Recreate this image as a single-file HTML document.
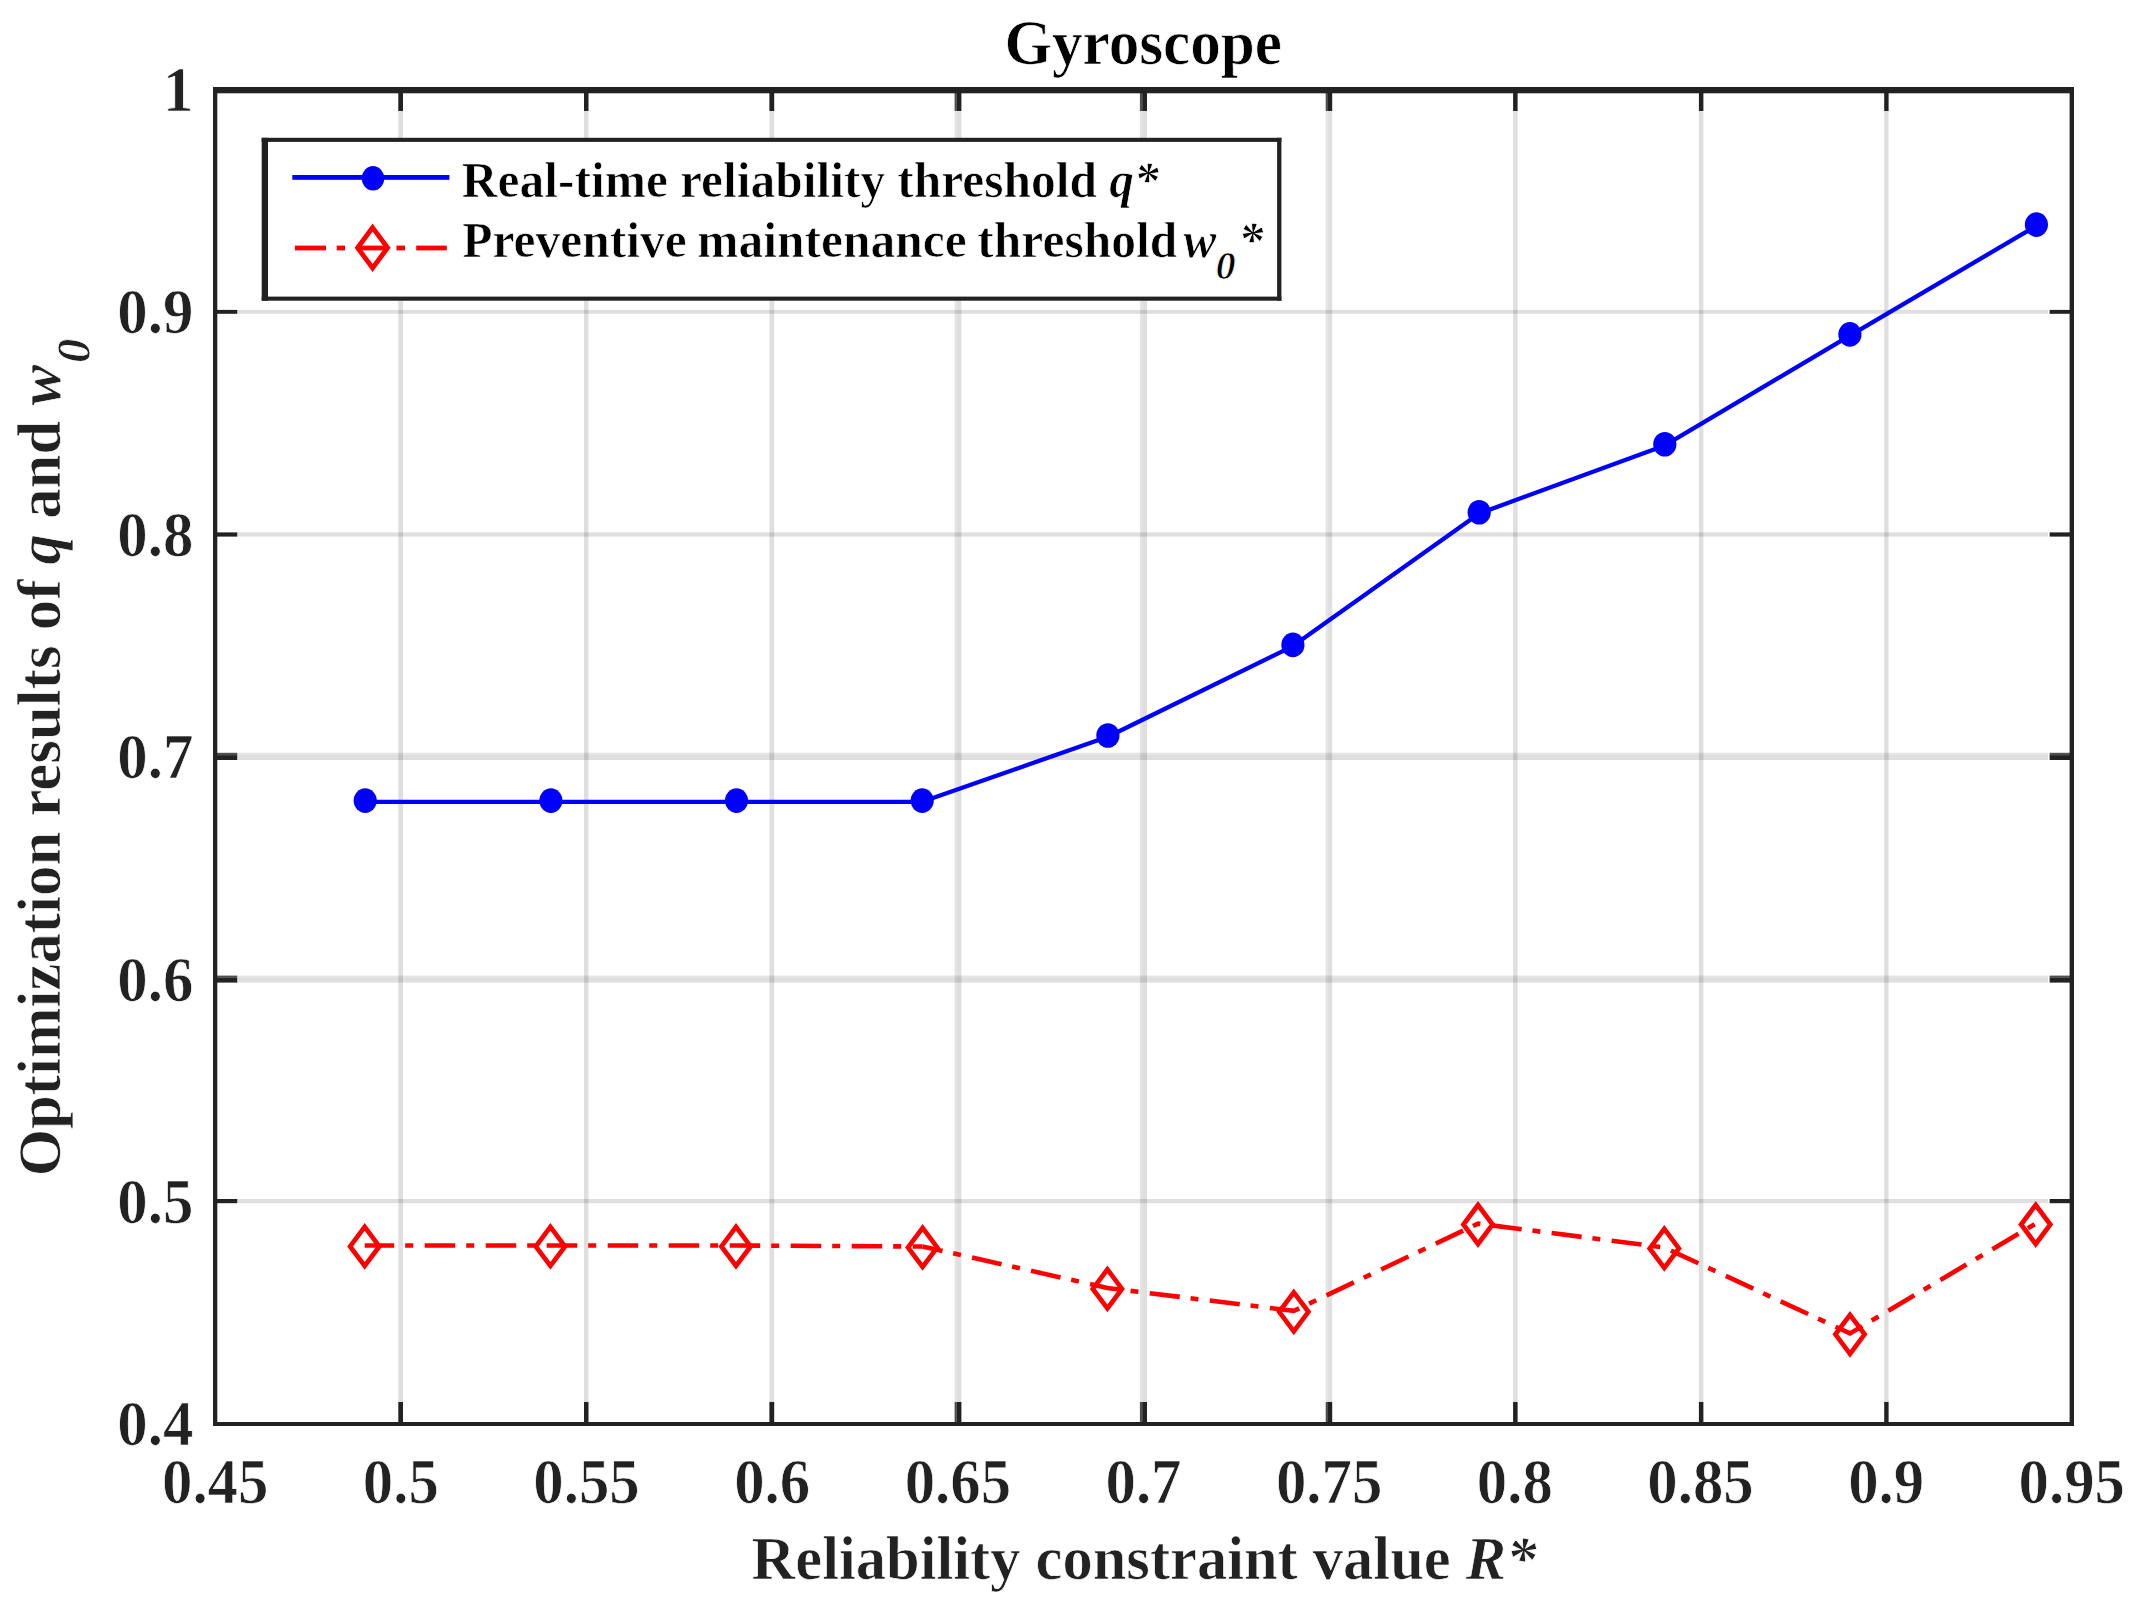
<!DOCTYPE html>
<html lang="en"><head><meta charset="utf-8"><title>Gyroscope</title>
<style>html,body{margin:0;padding:0;background:#fff;}body{width:2138px;height:1617px;overflow:hidden;}svg{display:block;}text{font-family:"Liberation Serif", "DejaVu Serif", serif;font-weight:bold;stroke:#fff;stroke-width:0.7px;}.i{font-style:italic;}</style>
</head><body>
<svg width="2138" height="1617" viewBox="0 0 2138 1617">
<rect width="2138" height="1617" fill="#fff"/>
<rect x="398.3" y="111.0" width="4.7" height="1290.5" fill="#222" opacity="0.147"/>
<rect x="584.0" y="111.0" width="4.5" height="1290.5" fill="#222" opacity="0.147"/>
<rect x="769.4" y="111.0" width="4.8" height="1290.5" fill="#222" opacity="0.147"/>
<rect x="954.6" y="111.0" width="2.3" height="1290.5" fill="#222" opacity="0.118"/>
<rect x="956.9" y="111.0" width="4.5" height="1290.5" fill="#222" opacity="0.147"/>
<rect x="1139.9" y="111.0" width="2.3" height="1290.5" fill="#222" opacity="0.118"/>
<rect x="1142.2" y="111.0" width="4.8" height="1290.5" fill="#222" opacity="0.147"/>
<rect x="1325.7" y="111.0" width="2.3" height="1290.5" fill="#222" opacity="0.118"/>
<rect x="1328.0" y="111.0" width="4.2" height="1290.5" fill="#222" opacity="0.147"/>
<rect x="1513.1" y="111.0" width="4.5" height="1290.5" fill="#222" opacity="0.147"/>
<rect x="1698.9" y="111.0" width="4.5" height="1290.5" fill="#222" opacity="0.147"/>
<rect x="1884.2" y="111.0" width="4.4" height="1290.5" fill="#222" opacity="0.147"/>
<rect x="237.8" y="1199.0" width="1810.2" height="4.2" fill="#222" opacity="0.147"/>
<rect x="237.8" y="975.6" width="1810.2" height="2.3" fill="#222" opacity="0.118"/>
<rect x="237.8" y="977.9" width="1810.2" height="4.7" fill="#222" opacity="0.147"/>
<rect x="237.8" y="752.8" width="1810.2" height="2.3" fill="#222" opacity="0.118"/>
<rect x="237.8" y="755.1" width="1810.2" height="4.9" fill="#222" opacity="0.147"/>
<rect x="237.8" y="532.4" width="1810.2" height="4.2" fill="#222" opacity="0.147"/>
<rect x="237.8" y="309.9" width="1810.2" height="3.9" fill="#222" opacity="0.147"/>
<rect x="398.3" y="1401.9" width="4.7" height="21.0" fill="#222"/>
<rect x="398.3" y="92.0" width="4.7" height="19.0" fill="#222"/>
<rect x="584.0" y="1401.9" width="4.5" height="21.0" fill="#222"/>
<rect x="584.0" y="92.0" width="4.5" height="19.0" fill="#222"/>
<rect x="769.4" y="1401.9" width="4.8" height="21.0" fill="#222"/>
<rect x="769.4" y="92.0" width="4.8" height="19.0" fill="#222"/>
<rect x="954.6" y="1401.9" width="2.3" height="21.0" fill="#222" opacity="0.800"/>
<rect x="956.9" y="1401.9" width="4.5" height="21.0" fill="#222"/>
<rect x="954.6" y="92.0" width="2.3" height="19.0" fill="#222" opacity="0.800"/>
<rect x="956.9" y="92.0" width="4.5" height="19.0" fill="#222"/>
<rect x="1139.9" y="1401.9" width="2.3" height="21.0" fill="#222" opacity="0.800"/>
<rect x="1142.2" y="1401.9" width="4.8" height="21.0" fill="#222"/>
<rect x="1139.9" y="92.0" width="2.3" height="19.0" fill="#222" opacity="0.800"/>
<rect x="1142.2" y="92.0" width="4.8" height="19.0" fill="#222"/>
<rect x="1325.7" y="1401.9" width="2.3" height="21.0" fill="#222" opacity="0.800"/>
<rect x="1328.0" y="1401.9" width="4.2" height="21.0" fill="#222"/>
<rect x="1325.7" y="92.0" width="2.3" height="19.0" fill="#222" opacity="0.800"/>
<rect x="1328.0" y="92.0" width="4.2" height="19.0" fill="#222"/>
<rect x="1513.1" y="1401.9" width="4.5" height="21.0" fill="#222"/>
<rect x="1513.1" y="92.0" width="4.5" height="19.0" fill="#222"/>
<rect x="1698.9" y="1401.9" width="4.5" height="21.0" fill="#222"/>
<rect x="1698.9" y="92.0" width="4.5" height="19.0" fill="#222"/>
<rect x="1884.2" y="1401.9" width="4.4" height="21.0" fill="#222"/>
<rect x="1884.2" y="92.0" width="4.4" height="19.0" fill="#222"/>
<rect x="216.0" y="1199.0" width="21.3" height="4.2" fill="#222"/>
<rect x="2049.6" y="1199.0" width="21.0" height="4.2" fill="#222"/>
<rect x="216.0" y="975.6" width="21.3" height="2.3" fill="#222" opacity="0.800"/>
<rect x="216.0" y="977.9" width="21.3" height="4.7" fill="#222"/>
<rect x="2049.6" y="975.6" width="21.0" height="2.3" fill="#222" opacity="0.800"/>
<rect x="2049.6" y="977.9" width="21.0" height="4.7" fill="#222"/>
<rect x="216.0" y="752.8" width="21.3" height="2.3" fill="#222" opacity="0.800"/>
<rect x="216.0" y="755.1" width="21.3" height="4.9" fill="#222"/>
<rect x="2049.6" y="752.8" width="21.0" height="2.3" fill="#222" opacity="0.800"/>
<rect x="2049.6" y="755.1" width="21.0" height="4.9" fill="#222"/>
<rect x="216.0" y="532.4" width="21.3" height="4.2" fill="#222"/>
<rect x="2049.6" y="532.4" width="21.0" height="4.2" fill="#222"/>
<rect x="216.0" y="309.9" width="21.3" height="3.9" fill="#222"/>
<rect x="2049.6" y="309.9" width="21.0" height="3.9" fill="#222"/>
<g fill="#222">
<rect x="213" y="87" width="1861" height="6.3"/>
<rect x="213" y="1422" width="1861" height="4"/>
<rect x="213" y="87" width="4.3" height="1339"/>
<rect x="2069.6" y="87" width="4.4" height="1339"/>
</g>
<polyline fill="none" stroke="#00f" stroke-width="4.3" stroke-linejoin="round" points="365.2,801.8 550.9,801.8 736.5,801.8 922.2,801.8 1107.9,736.7 1292.9,646.1 1479.2,513.5 1664.8,445.4 1849.9,335.6 2036.4,225.8"/>
<g fill="#00f">
<ellipse cx="365.2" cy="800.6" rx="11.6" ry="12.3"/>
<ellipse cx="550.9" cy="800.6" rx="11.6" ry="12.3"/>
<ellipse cx="736.5" cy="800.6" rx="11.6" ry="12.3"/>
<ellipse cx="922.2" cy="800.6" rx="11.6" ry="12.3"/>
<ellipse cx="1107.9" cy="735.5" rx="11.6" ry="12.3"/>
<ellipse cx="1292.9" cy="644.9" rx="11.6" ry="12.3"/>
<ellipse cx="1479.2" cy="512.3" rx="11.6" ry="12.3"/>
<ellipse cx="1664.8" cy="444.2" rx="11.6" ry="12.3"/>
<ellipse cx="1849.9" cy="334.4" rx="11.6" ry="12.3"/>
<ellipse cx="2036.4" cy="224.6" rx="11.6" ry="12.3"/>
</g>
<polyline fill="none" stroke="#f00" stroke-width="4.6" stroke-dasharray="30.50 11.00 8.00 11.50" stroke-dashoffset="1.00" points="364.7,1245.5 550.4,1245.5 736.0,1245.5 922.6,1246.5"/>
<polyline fill="none" stroke="#f00" stroke-width="4.6" stroke-dasharray="30.23 10.90 7.93 11.40" stroke-dashoffset="9.79" points="922.6,1246.5 1107.4,1288.0 1293.8,1310.9 1478.0,1223.6 1664.3,1247.5 1850.0,1333.4 2035.7,1223.6"/>
<g fill="none" stroke="#f00" stroke-width="4.7" stroke-linejoin="miter">
<path d="M364.7 1226.9L379.3 1246.4L364.7 1265.9L350.1 1246.4Z"/>
<path d="M550.4 1226.9L565.0 1246.4L550.4 1265.9L535.8 1246.4Z"/>
<path d="M736.0 1226.9L750.6 1246.4L736.0 1265.9L721.4 1246.4Z"/>
<path d="M922.6 1227.9L937.2 1247.4L922.6 1266.9L908.0 1247.4Z"/>
<path d="M1107.4 1269.4L1122.0 1288.9L1107.4 1308.4L1092.8 1288.9Z"/>
<path d="M1293.8 1292.3L1308.4 1311.8L1293.8 1331.3L1279.2 1311.8Z"/>
<path d="M1478.0 1205.0L1492.6 1224.5L1478.0 1244.0L1463.4 1224.5Z"/>
<path d="M1664.3 1228.9L1678.9 1248.4L1664.3 1267.9L1649.7 1248.4Z"/>
<path d="M1850.0 1314.8L1864.6 1334.3L1850.0 1353.8L1835.4 1334.3Z"/>
<path d="M2035.7 1205.0L2050.3 1224.5L2035.7 1244.0L2021.1 1224.5Z"/>
</g>
<rect x="264.85" y="139.85" width="1014.4" height="158.7" fill="#fff" stroke="none"/>
<g fill="#222">
<rect x="261.7" y="137.8" width="1019.7" height="4.1"/>
<rect x="261.7" y="296.6" width="1019.7" height="4.1"/>
<rect x="261.7" y="137.8" width="6.3" height="162.9"/>
<rect x="1277.1" y="137.8" width="4.3" height="162.9"/>
</g>
<rect x="292.3" y="175" width="157.1" height="4.8" fill="#00f"/>
<ellipse cx="373" cy="178.3" rx="11.2" ry="12.2" fill="#00f"/>
<g fill="#f00">
<rect x="294.9" y="245.6" width="31.1" height="4.8"/>
<rect x="336.7" y="245.6" width="8.3" height="4.8"/>
<rect x="356.3" y="245.6" width="30.5" height="4.8"/>
<rect x="396.5" y="245.6" width="8.5" height="4.8"/>
<rect x="416.2" y="245.6" width="30.6" height="4.8"/>
</g>
<path d="M372.6 227.6L387.6 247.8L372.6 268L357.6 247.8Z" fill="none" stroke="#f00" stroke-width="4.8"/>
<text id="lg1" transform="translate(461.80 196.80) scale(1 1.015)" font-size="49.5" text-anchor="start" fill="#000" word-spacing="-0.3">Real-time reliability threshold <tspan class="i">q*</tspan></text>
<text id="lg2" transform="translate(462.20 256.70) scale(1 1.015)" font-size="49.5" text-anchor="start" fill="#000" word-spacing="-1.7">Preventive maintenance threshold<tspan class="i" dx="6">w</tspan><tspan class="i" font-size="39.6" dy="22" dx="-0.5">0</tspan><tspan class="i" dy="-22" dx="3">*</tspan></text>
<text id="title" transform="translate(1143.20 64.10) scale(1 1.02)" font-size="61.2" text-anchor="middle" fill="#000">Gyroscope</text>
<text class="xt" transform="translate(215.20 1502.90) scale(1 1.03)" font-size="60.8" text-anchor="middle" fill="#222">0.45</text>
<text class="xt" transform="translate(400.86 1502.90) scale(1 1.03)" font-size="60.8" text-anchor="middle" fill="#222">0.5</text>
<text class="xt" transform="translate(586.52 1502.90) scale(1 1.03)" font-size="60.8" text-anchor="middle" fill="#222">0.55</text>
<text class="xt" transform="translate(772.18 1502.90) scale(1 1.03)" font-size="60.8" text-anchor="middle" fill="#222">0.6</text>
<text class="xt" transform="translate(957.84 1502.90) scale(1 1.03)" font-size="60.8" text-anchor="middle" fill="#222">0.65</text>
<text class="xt" transform="translate(1143.50 1502.90) scale(1 1.03)" font-size="60.8" text-anchor="middle" fill="#222">0.7</text>
<text class="xt" transform="translate(1329.16 1502.90) scale(1 1.03)" font-size="60.8" text-anchor="middle" fill="#222">0.75</text>
<text class="xt" transform="translate(1514.82 1502.90) scale(1 1.03)" font-size="60.8" text-anchor="middle" fill="#222">0.8</text>
<text class="xt" transform="translate(1700.48 1502.90) scale(1 1.03)" font-size="60.8" text-anchor="middle" fill="#222">0.85</text>
<text class="xt" transform="translate(1886.14 1502.90) scale(1 1.03)" font-size="60.8" text-anchor="middle" fill="#222">0.9</text>
<text class="xt" transform="translate(2071.80 1502.90) scale(1 1.03)" font-size="60.8" text-anchor="middle" fill="#222">0.95</text>
<text class="yt" transform="translate(193.30 1445.30) scale(1 1.03)" font-size="60.8" text-anchor="end" fill="#222">0.4</text>
<text class="yt" transform="translate(193.30 1222.90) scale(1 1.03)" font-size="60.8" text-anchor="end" fill="#222">0.5</text>
<text class="yt" transform="translate(193.30 1000.50) scale(1 1.03)" font-size="60.8" text-anchor="end" fill="#222">0.6</text>
<text class="yt" transform="translate(193.30 778.10) scale(1 1.03)" font-size="60.8" text-anchor="end" fill="#222">0.7</text>
<text class="yt" transform="translate(193.30 555.70) scale(1 1.03)" font-size="60.8" text-anchor="end" fill="#222">0.8</text>
<text class="yt" transform="translate(193.30 333.30) scale(1 1.03)" font-size="60.8" text-anchor="end" fill="#222">0.9</text>
<text class="yt" transform="translate(193.30 110.90) scale(1 1.03)" font-size="60.8" text-anchor="end" fill="#222">1</text>
<text id="xl" transform="translate(1144.00 1578.80)" font-size="60.5" text-anchor="middle" fill="#222">Reliability constraint value <tspan class="i">R*</tspan></text>
<text id="yl" transform="translate(60.30 757.50) rotate(-90)" font-size="60.8" text-anchor="middle" fill="#222">Optimization results of <tspan class="i">q</tspan> and <tspan class="i">w</tspan><tspan class="i" font-size="48.64" dy="30" dx="2">0</tspan></text>
</svg>
</body></html>
